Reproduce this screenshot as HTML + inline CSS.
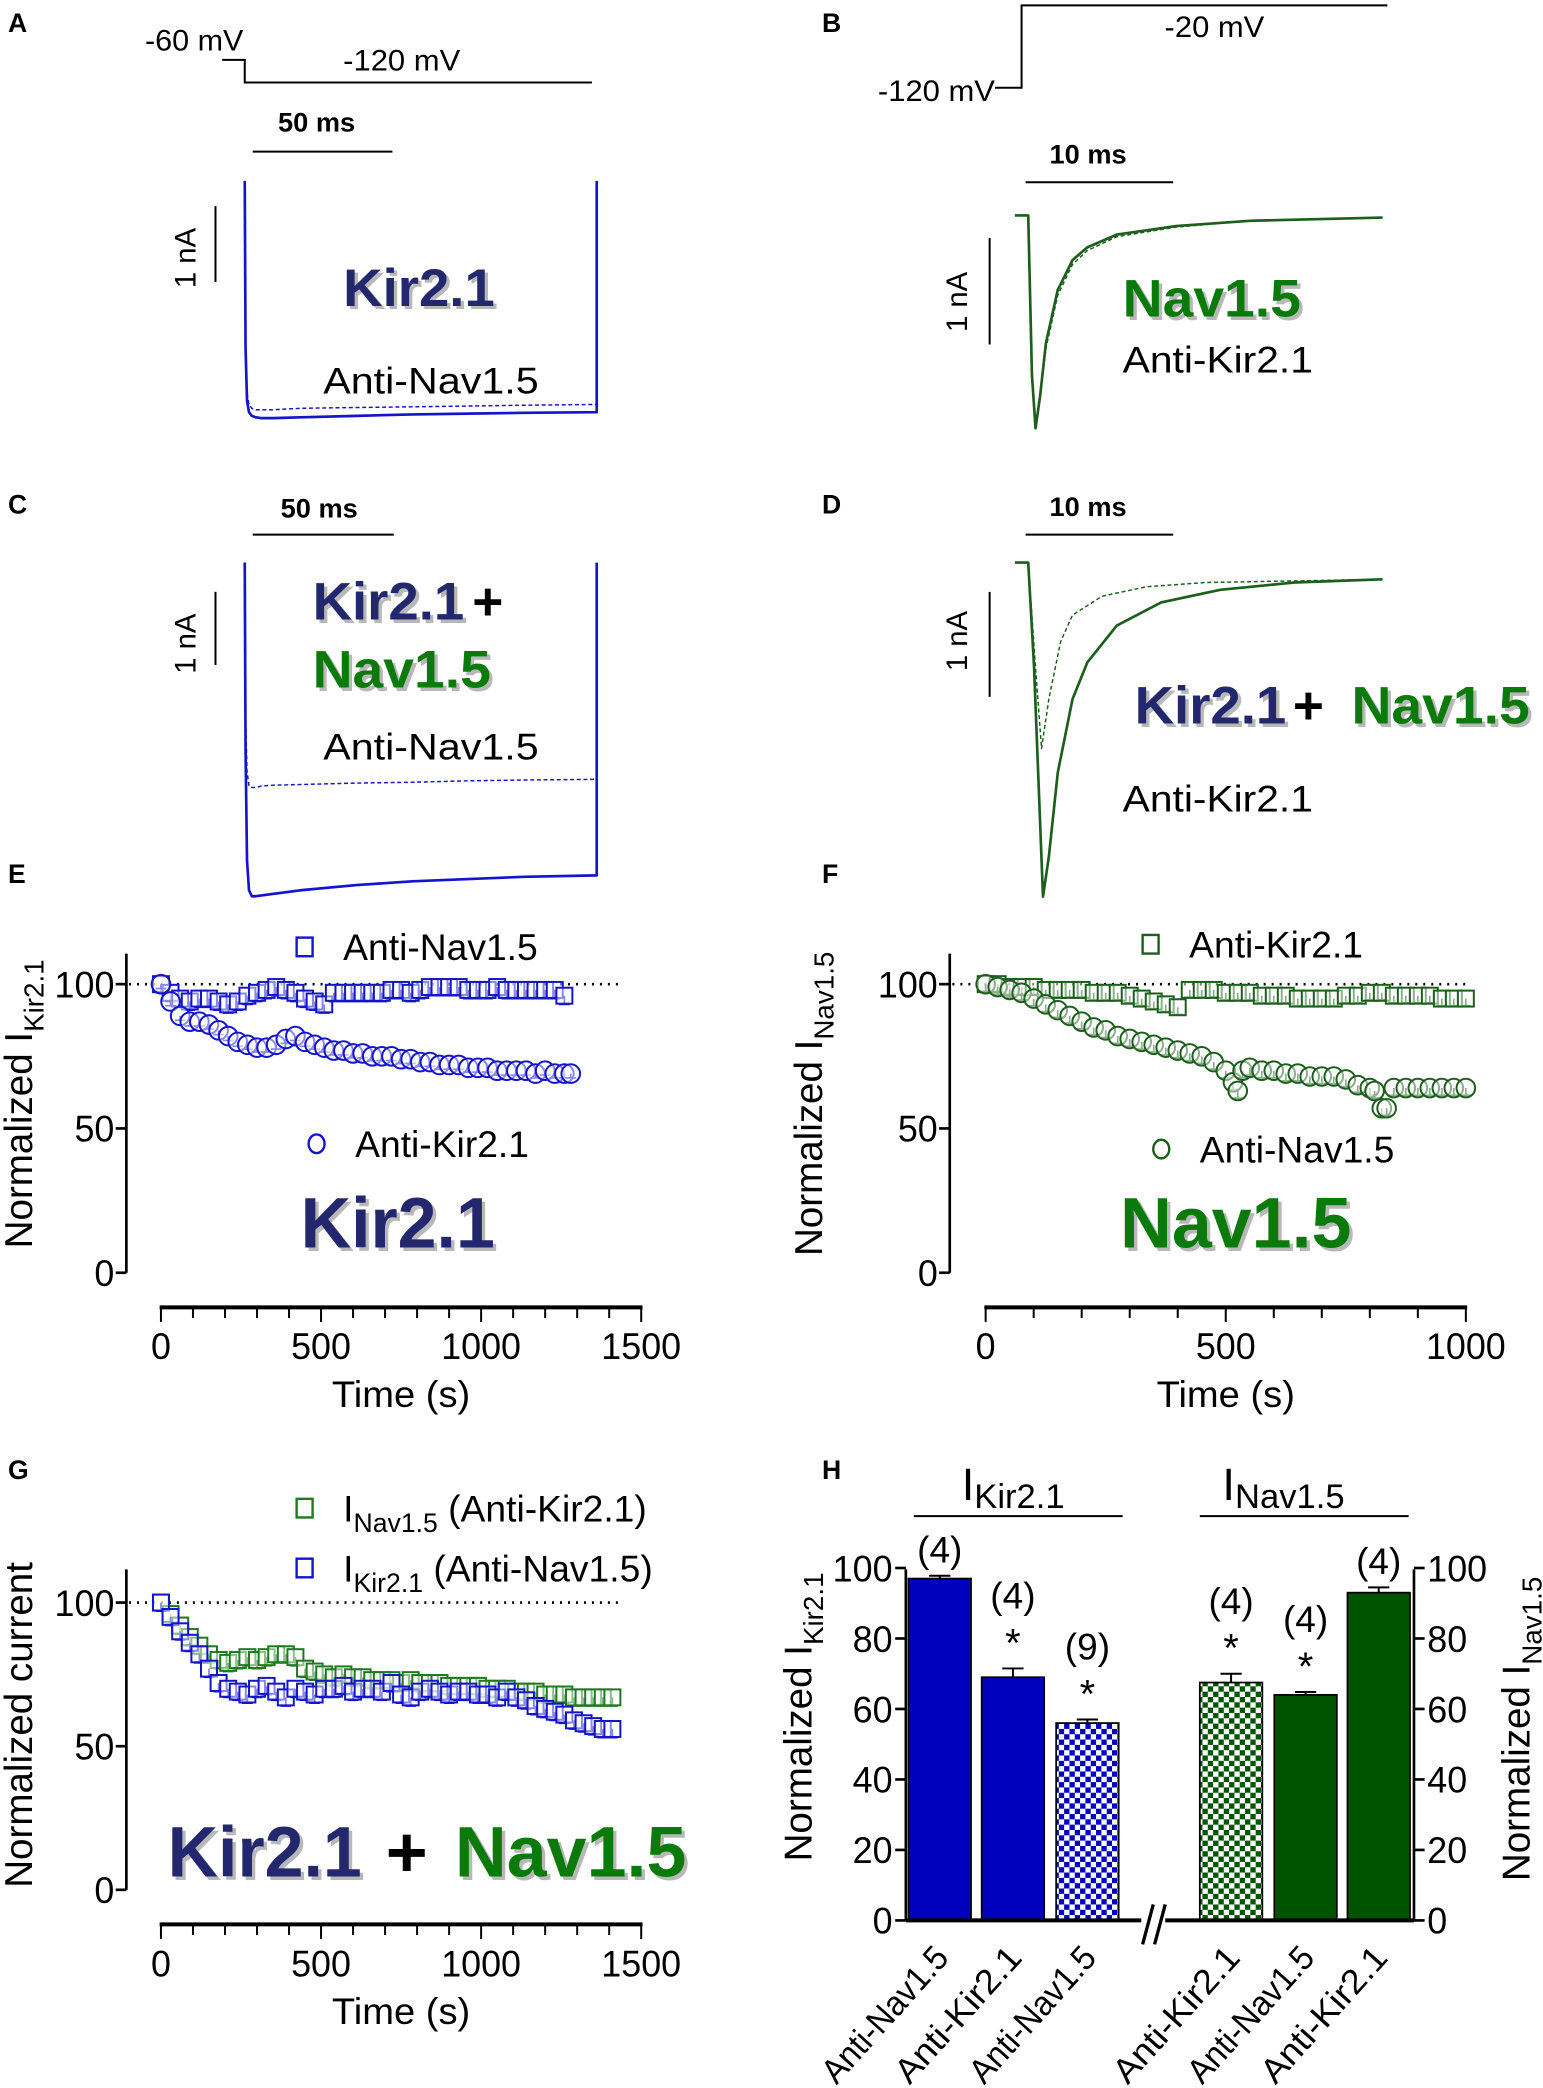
<!DOCTYPE html>
<html><head><meta charset="utf-8"><style>
html,body{margin:0;padding:0;background:#fff;}
svg{display:block;font-family:"Liberation Sans",Arial,sans-serif;}
</style></head><body>
<svg id="fig" width="1543" height="2088" viewBox="0 0 1160 1570" preserveAspectRatio="none" xmlns="http://www.w3.org/2000/svg">
<defs>
<pattern id="chkBlue" width="8" height="8" patternUnits="userSpaceOnUse"><rect width="8" height="8" fill="#fff"/><rect width="4" height="4" fill="#0000bf"/><rect x="4" y="4" width="4" height="4" fill="#0000bf"/></pattern>
<pattern id="chkGreen" width="8" height="8" patternUnits="userSpaceOnUse"><rect width="8" height="8" fill="#fff"/><rect width="4" height="4" fill="#005400"/><rect x="4" y="4" width="4" height="4" fill="#005400"/></pattern>
</defs>
<g id="root"></g>
</svg>
<script>
// ---------- data: traces (time ms, current nA) ----------
const tA=[0,0.3,0.8,1.5,2.5,4,6,10,20,40,60,80,100,126];
const iA_ctrl=[0,-2.2,-2.9,-3.05,-3.1,-3.12,-3.13,-3.13,-3.12,-3.1,-3.08,-3.07,-3.06,-3.05];
const iA_anti=[0,-2.1,-2.8,-2.95,-3.0,-3.02,-3.02,-3.02,-3.0,-2.99,-2.98,-2.97,-2.96,-2.95];
const iC_ctrl=[0,-2.5,-4.0,-4.4,-4.48,-4.48,-4.47,-4.45,-4.4,-4.33,-4.28,-4.25,-4.22,-4.2];
const iC_anti=[0,-2.0,-2.8,-3.0,-3.02,-3.02,-3.0,-2.99,-2.98,-2.96,-2.95,-2.93,-2.92,-2.91];
const tB=[0,0.25,0.5,0.8,1.2,2,3,4,6,10,15,24];
const iB_ctrl=[0,-1.5,-2.0,-1.7,-1.2,-0.7,-0.42,-0.3,-0.18,-0.1,-0.05,-0.02];
const iB_anti=[0,-1.5,-2.0,-1.72,-1.25,-0.75,-0.46,-0.33,-0.2,-0.11,-0.05,-0.02];
const tD=[0,0.4,1.0,1.4,2,3,4,6,9,13,18,24];
const iD_ctrl=[0,-1.0,-3.18,-2.8,-2.0,-1.3,-0.95,-0.6,-0.38,-0.26,-0.19,-0.16];
const tD2=[0,0.5,0.9,1.4,2.2,3,5,8,12,24];
const iD_anti=[0,-1.0,-1.77,-1.3,-0.75,-0.5,-0.32,-0.23,-0.19,-0.16];
// ---------- data: panel E ----------
const eCircT=[0,30,60,90,120,150,180,210,240,270,300,330,360,390,420,450,480,510,540,570,600,630,660,690,720,750,780,810,840,870,900,930,960,990,1020,1050,1080,1110,1140,1170,1200,1230,1260,1280];
const eCircV=[100,94,89,87,87,86,84,82,80,79,78,78,79,81,82,80,79,78,77,77,76,76,75,75,75,74,74,73,73,72,72,72,71,71,71,70,70,70,70,69,70,69,69,69];
const eSqT=[0,30,60,90,120,150,180,210,240,270,300,330,360,390,420,450,480,510,540,570,600,630,660,690,720,750,780,810,840,870,900,930,960,990,1020,1050,1080,1110,1140,1170,1200,1230,1260];
const eSqV=[100,97,95,94,95,95,94,93,94,96,97,98,99,98,97,95,94,93,97,97,97,97,97,97,98,98,97,98,99,99,99,99,98,98,98,99,98,98,98,98,98,98,96];
// ---------- data: panel F ----------
const fSqT=[0,25,50,75,100,125,150,175,200,225,250,275,300,325,350,375,400,425,450,475,500,525,550,575,600,625,650,675,700,725,750,775,800,825,850,875,900,925,950,975,1000];
const fSqV=[100,100,99,99,99,98,98,98,98,97,97,97,96,95,94,93,92,98,98,98,97,97,97,96,96,96,95,95,95,95,96,96,97,97,96,96,96,96,95,95,95];
const fCircT=[0,25,50,75,100,125,150,175,200,225,250,275,300,325,350,375,400,425,450,475,500,515,525,535,550,575,600,625,650,675,700,725,750,775,800,810,825,835,850,875,900,925,950,975,1000];
const fCircV=[100,99,98,97,95,93,91,89,87,85,84,82,81,80,79,78,77,76,75,73,70,66,63,70,71,70,70,69,69,68,68,68,67,65,64,63,57,57,64,64,64,64,64,64,64];
// ---------- data: panel G ----------
const gT=[0,30,60,90,120,150,180,210,240,270,300,330,360,390,420,450,480,510,540,570,600,630,660,690,720,750,780,810,840,870,900,930,960,990,1020,1050,1080,1110,1140,1170,1200,1230,1260,1290,1320,1350,1380,1410];
const gNav=[100,96,92,88,85,82,80,79,80,81,80,81,82,82,81,77,76,75,74,75,74,74,73,73,73,72,73,72,72,72,71,71,71,71,70,70,70,69,69,69,68,68,68,67,67,67,67,67];
const gKir=[100,95,90,86,82,77,72,70,69,68,70,71,69,67,70,69,68,70,70,71,69,70,70,69,72,68,67,69,70,69,68,69,69,68,68,67,69,67,66,64,63,62,61,59,58,57,56,56];
// ---------- data: panel H ----------
const hCats=["Anti-Nav1.5","Anti-Kir2.1","Anti-Nav1.5","Anti-Kir2.1","Anti-Nav1.5","Anti-Kir2.1"];
const hVals=[97,69,56,67.5,64,93];
const hErrs=[0.8,2.5,1.0,2.5,0.8,1.5];
const hN=["(4)","(4)","(9)","(4)","(4)","(4)"];
const hSig=[false,true,true,true,true,false];
const hTicks=[0,20,40,60,80,100];
const xTicksE=[0,500,1000,1500];
const xTicksF=[0,500,1000];
const yTicksE=[0,50,100];

const NS="http://www.w3.org/2000/svg";
const root=document.getElementById('root');
function mk(tag,attrs,parent){const e=document.createElementNS(NS,tag);for(const k in attrs)e.setAttribute(k,attrs[k]);(parent||root).appendChild(e);return e;}
function txt(x,y,s,size,opts){opts=opts||{};const e=mk('text',{x:x,y:y,'font-size':size,fill:opts.fill||'#000','text-anchor':opts.anchor||'start','font-weight':opts.weight||'normal'},opts.parent);if(opts.transform)e.setAttribute('transform',opts.transform);if(opts.len){e.setAttribute('textLength',opts.len);e.setAttribute('lengthAdjust','spacingAndGlyphs');}e.textContent=s;return e;}
const NAVY='#23286e',GRN='#0a7a0a',BLUE='#1414cc',DGRN='#1c5e1c';

[['A',6,24],['B',618,24],['C',6,386],['D',618,386],['E',6,664],['F',618,664],['G',6,1112],['H',618,1112]].forEach(p=>{
 const t=txt(p[1],p[2],p[0],20,{weight:'bold'});
 
 
});

function big(x,y,s,size,color,len,name){
 const g=mk('g',{});
 
 
 txt(x+2.5,y+2.5,s,size,{fill:'#b8b8b8',weight:'bold',len:len,parent:g});
 txt(x,y,s,size,{fill:color,weight:'bold',len:len,parent:g});
 return g;
}
function line(x1,y1,x2,y2,w,c,name){const l=mk('line',{x1:x1,y1:y1,x2:x2,y2:y2,stroke:c||'#000','stroke-width':w||1.5});return l;}
function trace(ts,is,x0,pxms,y0,pxna,col,dashed,pre,post,name){
 let d='';
 if(pre!=null) d+='M'+pre+','+y0+' L'+x0+','+y0+' ';
 ts.forEach((t,i)=>{d+=(d===''?'M':'L')+(x0+t*pxms).toFixed(1)+','+(y0-is[i]*pxna).toFixed(1)+' ';});
 if(post) d+='L'+(x0+ts[ts.length-1]*pxms).toFixed(1)+','+y0;
 const p=mk('path',{d:d,fill:'none',stroke:col,'stroke-width':dashed?1.1:2,'stroke-dasharray':dashed?'3,2':'none','stroke-linejoin':'round'});
 
 
 return p;
}

// ---------- Panel A ----------
txt(146,38,'-60 mV',22,{anchor:'middle',len:74});
{const p=mk('path',{d:'M167,45 L184,45 L184,62 L445,62',fill:'none',stroke:'#000','stroke-width':1.5});}
txt(302,53,'-120 mV',22,{anchor:'middle',len:88});
txt(238,99,'50 ms',20,{anchor:'middle',len:58,weight:'bold'});
line(190,114,295,114,1.5,'#000','time-scale-bar-a');
line(162,155,162,212,1.5,'#000','current-scale-bar-a');
txt(0,0,'1 nA',22,{anchor:'middle',transform:'translate(147,194) rotate(-90)'});
trace(tA,iA_anti,184,2.1,136,57,BLUE,true,null,true,'trace-a-anti-nav');
trace(tA,iA_ctrl,184,2.1,136,57,BLUE,false,null,true,'trace-a-control');
big(258,230,'Kir2.1',40,NAVY,114,'title-kir21-a');
txt(243,296,'Anti-Nav1.5',28,{len:162});

// ---------- Panel B ----------
txt(704,76,'-120 mV',22,{anchor:'middle',len:88});
{const p=mk('path',{d:'M748,66 L768,66 L768,4 L1043,4',fill:'none',stroke:'#000','stroke-width':1.5});}
txt(913,28,'-20 mV',22,{anchor:'middle',len:75});
txt(818,123,'10 ms',20,{anchor:'middle',len:58,weight:'bold'});
line(771,137,882,137,1.5,'#000','time-scale-bar-b');
line(744,179,744,259,1.5,'#000','current-scale-bar-b');
txt(0,0,'1 nA',22,{anchor:'middle',transform:'translate(727,227) rotate(-90)'});
trace(tB,iB_anti,773,11.1,162,80,DGRN,true,763,false,'trace-b-anti-kir');
trace(tB,iB_ctrl,773,11.1,162,80,DGRN,false,763,false,'trace-b-control');
big(844,238,'Nav1.5',40,GRN,134,'title-nav15-b');
txt(844,280,'Anti-Kir2.1',28,{len:143});

// ---------- Panel C ----------
txt(240,389,'50 ms',20,{anchor:'middle',len:58,weight:'bold'});
line(190,402,296,402,1.5,'#000','time-scale-bar-c');
line(162,445,162,500,1.5,'#000','current-scale-bar-c');
txt(0,0,'1 nA',22,{anchor:'middle',transform:'translate(147,484) rotate(-90)'});
trace(tA,iC_anti,184,2.1,423,56,BLUE,true,null,false,'trace-c-anti-nav');
trace(tA,iC_ctrl,184,2.1,423,56,BLUE,false,null,true,'trace-c-control');
big(235,466,'Kir2.1',40,NAVY,114,'title-kir21-c');
txt(355,466,'+',40,{weight:'bold'});
big(235,517,'Nav1.5',40,GRN,134,'title-nav15-c');
txt(243,571,'Anti-Nav1.5',28,{len:162});

// ---------- Panel D ----------
txt(818,388,'10 ms',20,{anchor:'middle',len:58,weight:'bold'});
line(771,402,882,402,1.5,'#000','time-scale-bar-d');
line(744,445,744,524,1.5,'#000','current-scale-bar-d');
txt(0,0,'1 nA',22,{anchor:'middle',transform:'translate(727,482) rotate(-90)'});
trace(tD2,iD_anti,773,11.1,423,79,DGRN,true,763,false,'trace-d-anti-kir');
trace(tD,iD_ctrl,773,11.1,423,79,DGRN,false,763,false,'trace-d-control');
big(853,544,'Kir2.1',40,NAVY,114,'title-kir21-d');
txt(972,544,'+',40,{weight:'bold'});
big(1016,544,'Nav1.5',40,GRN,134,'title-nav15-d');
txt(844,610,'Anti-Kir2.1',28,{len:143});

function axes(o){
 const yS=v=>o.y0-(v/100)*(o.y0-o.y100);
 const xS=t=>o.x0+t*o.pxs;
 line(o.ax,o.yTop,o.ax,o.y0,2,'#000','y-axis-'+o.id);
 yTicksE.forEach(v=>{
  line(o.ax-8,yS(v),o.ax,yS(v),2,'#000','y-tick-'+o.id+'-'+v);
  txt(o.ax-9,yS(v)+10,String(v),28,{anchor:'end',len:String(v).length*15});
 });
 const xEnd=xS(o.xmax);
 line(o.x0-1,o.xy,xEnd+1,o.xy,3,'#000','x-axis-'+o.id);
 for(let t=0;t<=o.xmax;t+=100){
  const major=(t%500===0);
  line(xS(t),o.xy,xS(t),o.xy+(major?11:8),1.5,'#000','x-tick-'+o.id+'-'+t);
 }
 o.xt.forEach(t=>{txt(xS(t),o.xy+39,String(t),28,{anchor:'middle',len:String(t).length*15});});
 txt(xS(o.xmax/2),o.xy+75,'Time (s)',28,{anchor:'middle',len:104});
 const dl=mk('line',{x1:o.ax+2,y1:yS(100),x2:o.dotEnd,y2:yS(100),stroke:'#000','stroke-width':2,'stroke-dasharray':'1.5,4.5'});
 
 
 return {xS,yS};
}
function squares(T,V,err,sc,col,name){
 const g=mk('g',{});
 T.forEach((t,i)=>{
  const x=sc.xS(t),y=sc.yS(V[i]),ye=sc.yS(V[i]-err);
  const eb=mk('path',{d:`M${x},${y} L${x},${ye} M${x-4},${ye} L${x+4},${ye}`,stroke:col,'stroke-width':1.3,fill:'none'},g);
  
  const r=mk('rect',{x:x-6,y:y-6,width:12,height:12,fill:'#fff','fill-opacity':0.5,stroke:col,'stroke-width':1.5},g);
  
  
 });
 return g;
}
function circles(T,V,err,sc,col,name){
 const g=mk('g',{});
 T.forEach((t,i)=>{
  const x=sc.xS(t),y=sc.yS(V[i]),ye=sc.yS(V[i]-err);
  const eb=mk('path',{d:`M${x},${y} L${x},${ye} M${x-4},${ye} L${x+4},${ye}`,stroke:col,'stroke-width':1.3,fill:'none'},g);
  
  const c=mk('circle',{cx:x,cy:y,r:7,fill:'#fff','fill-opacity':0.5,stroke:col,'stroke-width':1.5},g);
  
  
 });
 return g;
}
function legendItem(x,y,shape,col,parts,name){
 const g=mk('g',{});
 if(shape==='sq') mk('rect',{x:x-6,y:y-7,width:12,height:14,fill:'none',stroke:col,'stroke-width':1.8},g);
 else mk('ellipse',{cx:x,cy:y,rx:6,ry:7,fill:'none',stroke:col,'stroke-width':1.8},g);
 const t=mk('text',{x:x+29,y:y+10,'font-size':28},g);
 parts.forEach(p=>{const s=mk('tspan',p.sub?{'font-size':20,dy:8}:(p.up?{dy:-8}:{}),t);s.textContent=p.s;});
 return g;
}
function yTitle(x,yc,main,sub,size,name){
 const t=mk('text',{x:0,y:0,'font-size':size,'text-anchor':'middle',transform:`translate(${x},${yc}) rotate(-90)`});
 
 
 const a=mk('tspan',{},t);a.textContent=main;
 if(sub){const b=mk('tspan',{'font-size':size*0.72,dy:size*0.3},t);b.textContent=sub;}
 return t;
}

// ---------- Panel E ----------
{
 const sc=axes({id:'e',ax:95,yTop:717,y0:957,y100:740,x0:121,pxs:0.2407,xmax:1500,xy:983,xt:xTicksE,dotEnd:465});
 squares(eSqT,eSqV,3,sc,'#1414cc','series-e-anti-nav');
 circles(eCircT,eCircV,1.5,sc,'#1414cc','series-e-anti-kir');
 legendItem(229,712,'sq','#1414cc',[{s:'Anti-Nav1.5'}],'legend-e-anti-nav');
 legendItem(238,860,'ci','#1414cc',[{s:'Anti-Kir2.1'}],'legend-e-anti-kir');
 big(226,938,'Kir2.1',54,NAVY,146,'title-kir21-e');
 yTitle(24,830,'Normalized I','Kir2.1',29,'y-axis-title-e');
}
// ---------- Panel F ----------
{
 const sc=axes({id:'f',ax:714,yTop:717,y0:957,y100:740,x0:741,pxs:0.361,xmax:1000,xy:983,xt:xTicksF,dotEnd:1102});
 squares(fSqT,fSqV,2.5,sc,DGRN,'series-f-anti-kir');
 circles(fCircT,fCircV,2.5,sc,DGRN,'series-f-anti-nav');
 legendItem(865,710,'sq',DGRN,[{s:'Anti-Kir2.1'}],'legend-f-anti-kir');
 legendItem(873,864,'ci',DGRN,[{s:'Anti-Nav1.5'}],'legend-f-anti-nav');
 big(842,938,'Nav1.5',54,GRN,174,'title-nav15-f');
 yTitle(618,830,'Normalized I','Nav1.5',29,'y-axis-title-f');
}
// ---------- Panel G ----------
{
 const sc=axes({id:'g',ax:95,yTop:1180,y0:1421,y100:1205,x0:121,pxs:0.2407,xmax:1500,xy:1447,xt:xTicksE,dotEnd:465});
 squares(gT,gNav,3,sc,'#1d7a1d','series-g-nav15');
 squares(gT,gKir,3,sc,'#1414cc','series-g-kir21');
 legendItem(229,1134,'sq','#1d7a1d',[{s:'I'},{s:'Nav1.5',sub:true},{s:' (Anti-Kir2.1)',up:true}],'legend-g-nav15');
 legendItem(229,1179,'sq','#1414cc',[{s:'I'},{s:'Kir2.1',sub:true},{s:' (Anti-Nav1.5)',up:true}],'legend-g-kir21');
 big(126,1411,'Kir2.1',54,NAVY,146,'title-kir21-g');
 txt(290,1411,'+',54,{weight:'bold'});
 big(342,1411,'Nav1.5',54,GRN,174,'title-nav15-g');
 yTitle(24,1297,'Normalized current',null,29,'y-axis-title-g');
}
// ---------- Panel H ----------
{
 const y0=1444,y100=1179;
 const yS=v=>y0-v/100*(y0-y100);
 const barX=[683,738,794,902,958,1013];
 const bw=47;
 const fills=['#0000bf','#0000bf','url(#chkBlue)','url(#chkGreen)','#005400','#005400'];
 line(681,1180,681,y0,2,'#000','y-axis-left-h');
 line(1063,1180,1063,y0,2,'#000','y-axis-right-h');
 hTicks.forEach(v=>{
  line(673,yS(v),681,yS(v),2,'#000','y-tick-left-h-'+v);
  txt(671,yS(v)+10,String(v),28,{anchor:'end',len:String(v).length*15});
  line(1063,yS(v),1071,yS(v),2,'#000','y-tick-right-h-'+v);
  txt(1073,yS(v)+10,String(v),28,{len:String(v).length*15});
 });
 hVals.forEach((v,i)=>{
  const x=barX[i],cx=x+bw/2,yt=yS(v),ye=yS(v+hErrs[i]);
  const eb=mk('path',{d:`M${cx},${yt} L${cx},${ye} M${cx-8},${ye} L${cx+8},${ye}`,stroke:'#000','stroke-width':1.5,fill:'none'});
  
  
  const r=mk('rect',{x:x,y:yt,width:bw,height:y0-yt,fill:fills[i],stroke:'#000','stroke-width':1.3});
  
  
  let ny=ye-20;
  if(hSig[i]){txt(cx,ye-9,'*',30,{anchor:'middle'});ny=ye-55;}
  txt(cx,ny+10,hN[i],28,{anchor:'middle',len:34});
  txt(0,0,hCats[i],26,{anchor:'end',transform:`translate(${cx+8},${1473}) rotate(-48)`,len:128});
 });
 line(681,y0,1063,y0,3,'#000','x-axis-h');
 {const b=mk('path',{d:'M859,1462 L867,1432 M868,1462 L876,1432',stroke:'#000','stroke-width':2.5});
  const w=mk('rect',{x:858,y:1441,width:18,height:6,fill:'#fff'});
  root.appendChild(b);}
 line(687,1140,844,1140,1.5,'#000','group-line-kir21');
 line(902,1140,1059,1140,1.5,'#000','group-line-nav15');
 {const t=mk('text',{x:723,y:1128,'font-size':34});
  const a=mk('tspan',{},t);a.textContent='I';const b=mk('tspan',{'font-size':26,dy:6},t);b.textContent='Kir2.1';}
 {const t=mk('text',{x:919,y:1128,'font-size':34});
  const a=mk('tspan',{},t);a.textContent='I';const b=mk('tspan',{'font-size':26,dy:6},t);b.textContent='Nav1.5';}
 yTitle(610,1291,'Normalized I','Kir2.1',29,'y-axis-title-left-h');
 yTitle(1150,1300,'Normalized I','Nav1.5',29,'y-axis-title-right-h');
}
</script>
</body></html>
